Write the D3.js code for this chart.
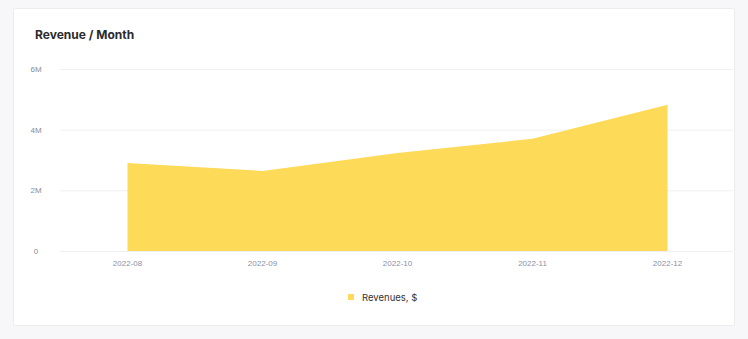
<!DOCTYPE html>
<html><head><meta charset="utf-8">
<script src="https://cdn.jsdelivr.net/npm/d3@7"></script>
<style>
html,body{margin:0;padding:0;background:#f7f7f9;}
svg{display:block;font-family:Inter, "Noto Sans", sans-serif;}
</style></head>
<body><svg id="c" width="748" height="339"></svg>
<script>
const months = ["2022-08","2022-09","2022-10","2022-11","2022-12"];
const revenues = [2900000, 2640000, 3230000, 3700000, 4820000];
const yTicks = [0, 2000000, 4000000, 6000000];
const yTickLabels = ["0","2M","4M","6M"];
const title = "Revenue / Month";
const seriesName = "Revenues, $";

const svg = d3.select("#c");
svg.append("rect").attr("x",13.5).attr("y",8.5).attr("width",721).attr("height",317)
  .attr("fill","#fff").attr("stroke","#ececf0").attr("rx",2);
svg.append("text").attr("x",35).attr("y",39).text(title)
  .attr("font-size",12).attr("font-weight",700).attr("fill","#2b2b2b");

const x = d3.scaleBand().domain(months).range([60,735]);
const y = d3.scaleLinear().domain([0,6000000]).range([251,69]);

const grid = svg.append("g");
grid.selectAll("line").data(yTicks).join("line")
  .attr("x1",60).attr("x2",733).attr("y1",d=>y(d)+0.5).attr("y2",d=>y(d)+0.5)
  .attr("stroke","#f0f0f3");

const yAxis = svg.append("g").attr("transform","translate(48,0)")
  .call(d3.axisLeft(y).tickValues(yTicks).tickFormat((d,i)=>yTickLabels[i]).tickSize(0).tickPadding(0));
yAxis.select(".domain").remove();
yAxis.selectAll("text").attr("font-size",8).attr("fill","#8a8a95").attr("text-anchor","middle").attr("dx",-12);

const cx = d => x(d) + x.bandwidth()/2;
const area = d3.area().x((d,i)=>cx(months[i])).y0(y(0)).y1(d=>y(d));
svg.append("path").datum(revenues).attr("d",area).attr("fill","#fdda58");

const xAxis = svg.append("g").attr("transform","translate(0,261)")
  .call(d3.axisBottom(x).tickSize(0).tickPadding(0));
xAxis.select(".domain").remove();
xAxis.selectAll("text").attr("font-size",8).attr("fill","#8a90a8").attr("dy","0.6em");

const lg = svg.append("g").attr("transform","translate(348,297)");
lg.append("rect").attr("x",0).attr("y",-3).attr("width",6).attr("height",6).attr("fill","#fdda58");
lg.append("text").attr("x",14).attr("y",4).text(seriesName).attr("font-size",9.5).attr("fill","#333");
</script></body></html>
